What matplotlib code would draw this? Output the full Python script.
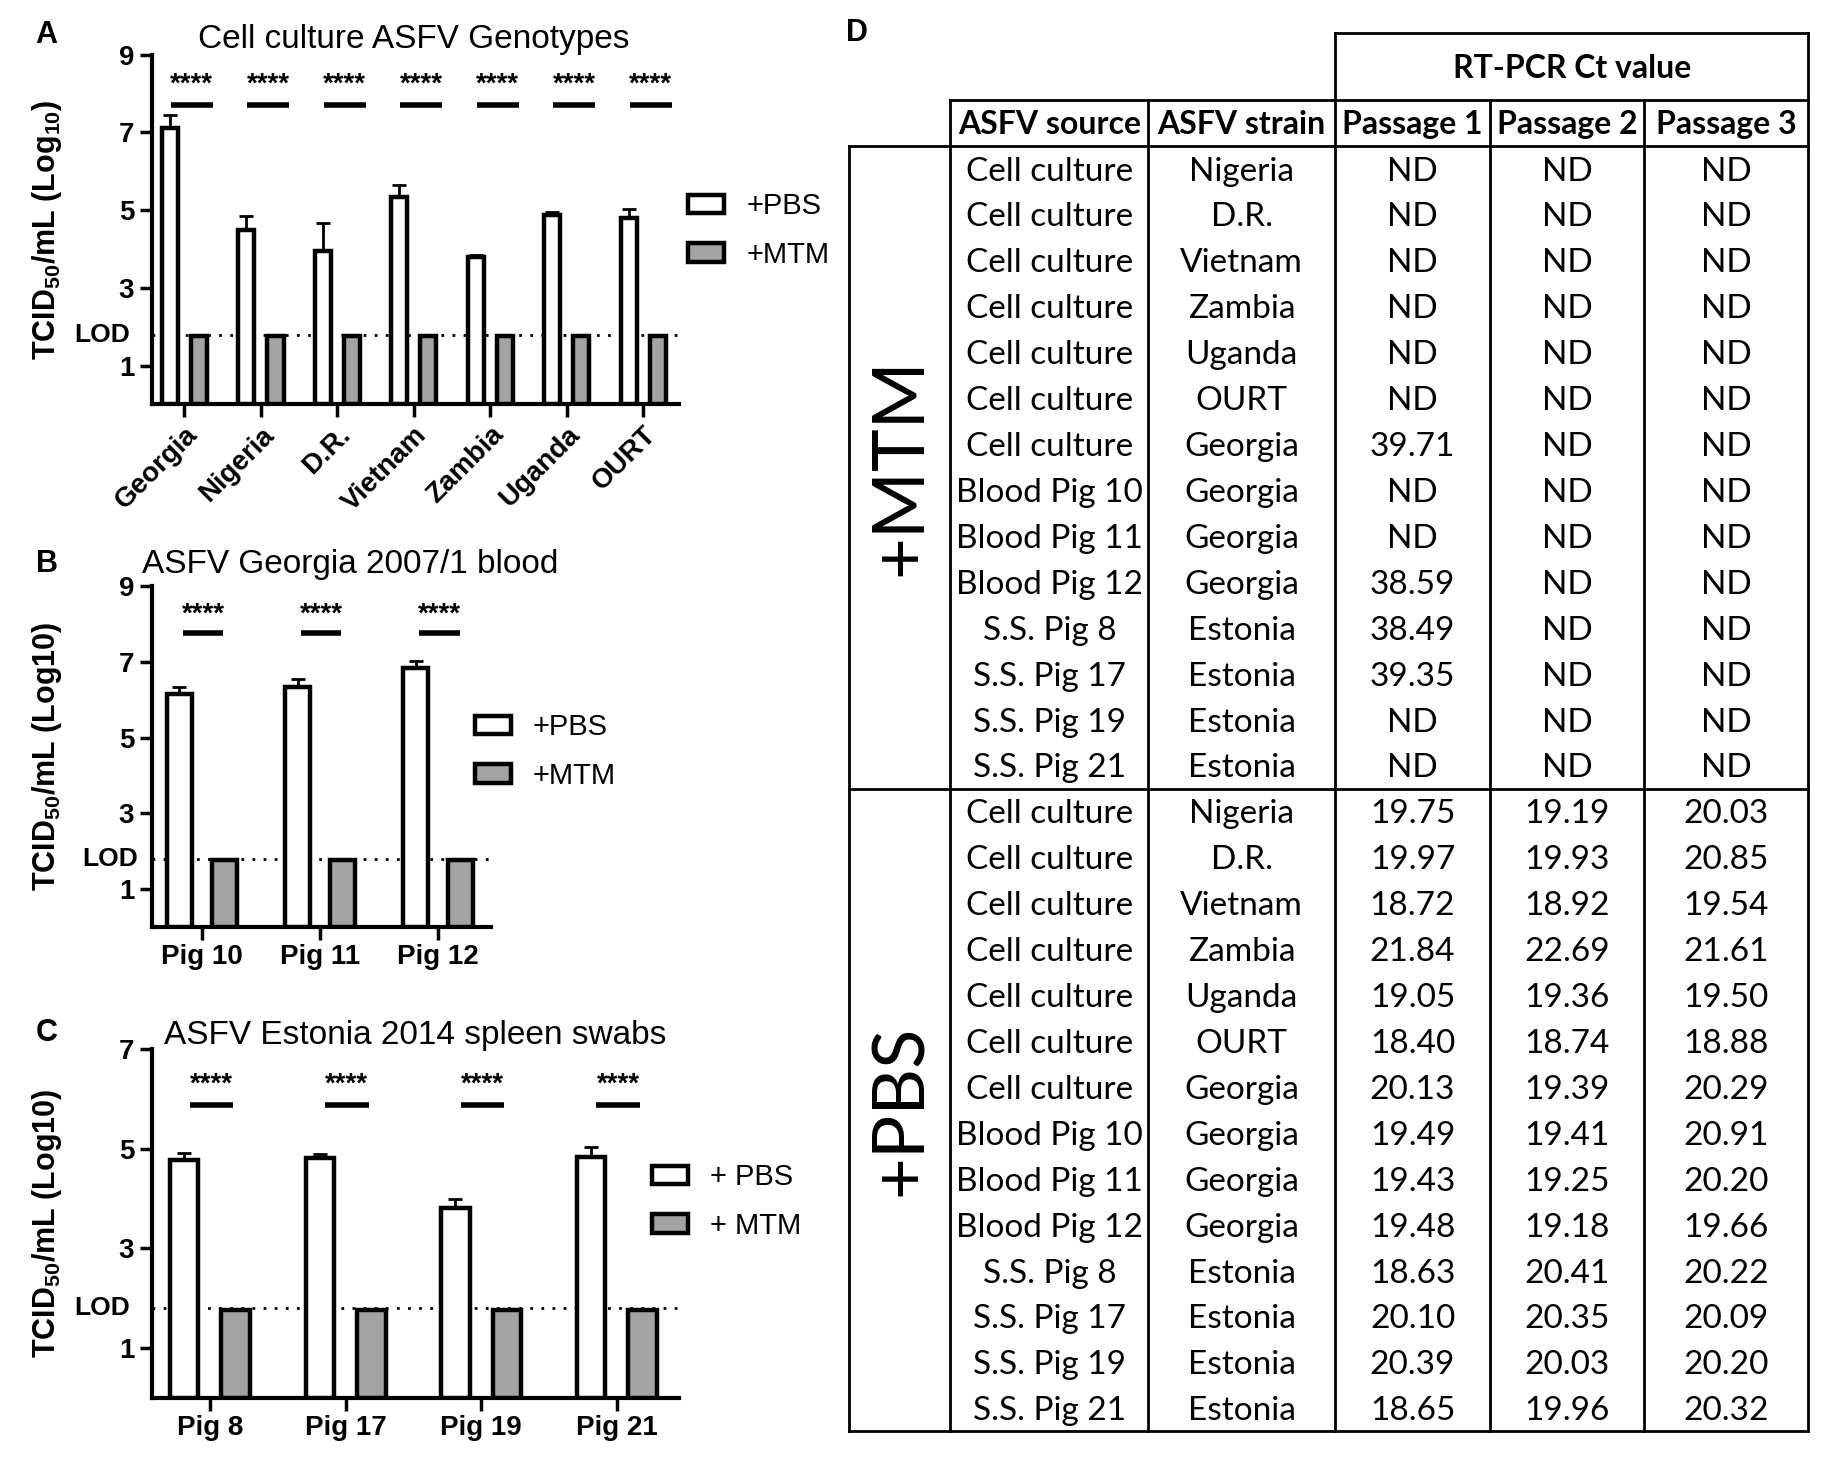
import numpy as np
import matplotlib.pyplot as plt

plt.rcParams['font.family'] = ['Liberation Sans', 'DejaVu Sans']
plt.rcParams['mathtext.fontset'] = 'custom'
plt.rcParams['mathtext.rm'] = 'Liberation Sans'
plt.rcParams['mathtext.bf'] = 'Liberation Sans:bold'

# ---- panel A: cell culture genotypes ----
genotypes = ['Georgia', 'Nigeria', 'D.R.', 'Vietnam', 'Zambia', 'Uganda', 'OURT']
a_pbs = [7.12, 4.49, 3.96, 5.34, 3.79, 4.87, 4.81]
a_pbs_err = [0.34, 0.36, 0.72, 0.31, 0.06, 0.09, 0.22]
a_mtm = [1.76, 1.76, 1.76, 1.76, 1.76, 1.76, 1.76]

# ---- panel B: Georgia 2007/1 blood ----
blood_pigs = ['Pig 10', 'Pig 11', 'Pig 12']
b_pbs = [6.15, 6.33, 6.83]
b_pbs_err = [0.20, 0.22, 0.19]
b_mtm = [1.76, 1.76, 1.76]

# ---- panel C: Estonia 2014 spleen swabs ----
swab_pigs = ['Pig 8', 'Pig 17', 'Pig 19', 'Pig 21']
c_pbs = [4.77, 4.81, 3.80, 4.84]
c_pbs_err = [0.14, 0.09, 0.19, 0.19]
c_mtm = [1.76, 1.76, 1.76, 1.76]

lod = 1.8

# ---- panel D: RT-PCR Ct values (None = ND) ----
sources = ['Cell culture'] * 7 + ['Blood Pig 10', 'Blood Pig 11', 'Blood Pig 12',
                                  'S.S. Pig 8', 'S.S. Pig 17', 'S.S. Pig 19', 'S.S. Pig 21']
strains = ['Nigeria', 'D.R.', 'Vietnam', 'Zambia', 'Uganda', 'OURT', 'Georgia',
           'Georgia', 'Georgia', 'Georgia', 'Estonia', 'Estonia', 'Estonia', 'Estonia']
mtm_p1 = [None] * 6 + [39.71, None, None, 38.59, 38.49, 39.35, None, None]
mtm_p2 = [None] * 14
mtm_p3 = [None] * 14
pbs_p1 = [19.75, 19.97, 18.72, 21.84, 19.05, 18.40, 20.13, 19.49, 19.43, 19.48, 18.63, 20.10, 20.39, 18.65]
pbs_p2 = [19.19, 19.93, 18.92, 22.69, 19.36, 18.74, 19.39, 19.41, 19.25, 19.18, 20.41, 20.35, 20.03, 19.96]
pbs_p3 = [20.03, 20.85, 19.54, 21.61, 19.50, 18.88, 20.29, 20.91, 20.20, 19.66, 20.22, 20.09, 20.20, 20.32]

W, H = 1567, 1262  # layout grid


def box(l, t, r, b):
    return [l / W, 1 - b / H, (r - l) / W, (b - t) / H]


fig = plt.figure(figsize=(18.27, 14.71), dpi=100)


def bar_panel(rect, xlim, cats, pbs, err, mtm, ymax, ylabel, sig_span, sig_y, star_y,
              labels, leg_xy, rotate=False):
    ax = fig.add_axes(rect)
    x = np.arange(len(cats))
    w, off = 0.21, 0.19
    ax.axhline(lod, color='black', lw=2, ls=(0, (1, 3)), zorder=1)
    b1 = ax.bar(x - off, pbs, width=w, color='white', edgecolor='black', lw=3.2, zorder=3)
    b2 = ax.bar(x + off, mtm, width=w, color='#a3a3a3', edgecolor='black', lw=3.2, zorder=3)
    ax.errorbar(x - off, pbs, yerr=[np.zeros(len(pbs)), err], fmt='none', ecolor='black',
                elinewidth=2, capsize=5, capthick=2, zorder=2)
    for xi in x:
        ax.plot([xi + sig_span[0], xi + sig_span[1]], [sig_y, sig_y], color='black', lw=4,
                solid_capstyle='butt')
        ax.text(xi + (sig_span[0] + sig_span[1]) / 2, star_y, '****', ha='center', va='center',
                fontsize=20, fontweight='bold')
    ax.set_xlim(*xlim)
    ax.set_ylim(0, ymax)
    ax.set_yticks(range(1, ymax + 1, 2))
    ax.set_xticks(x)
    if rotate:
        ax.set_xticklabels(cats, rotation=45, ha='right', rotation_mode='anchor')
    else:
        ax.set_xticklabels(cats)
    ax.tick_params(labelsize=20, width=2.5, length=9)
    plt.setp(ax.get_xticklabels() + ax.get_yticklabels(), fontweight='bold')
    for s in ['top', 'right']:
        ax.spines[s].set_visible(False)
    for s in ['left', 'bottom']:
        ax.spines[s].set_linewidth(3)
    ax.text(-0.04, lod, 'LOD', transform=ax.get_yaxis_transform(), ha='right', va='center',
            fontsize=19, fontweight='bold')
    fig.text(40 / W, rect[1] + rect[3] / 2, ylabel, rotation=90, ha='center', va='center',
             fontsize=22, fontweight='bold')
    ax.legend([b1, b2], labels, loc='upper left', bbox_to_anchor=(leg_xy[0] / W, 1 - leg_xy[1] / H),
              bbox_transform=fig.transFigure, frameon=False, fontsize=21, handlelength=1.25,
              handleheight=0.6, handletextpad=0.75, labelspacing=0.7, borderpad=0, borderaxespad=0)
    return ax


ylab_a = r'TCID$_{\mathbf{50}}$/mL (Log$_{\mathbf{10}}$)'
ylab_bc = r'TCID$_{\mathbf{50}}$/mL (Log10)'

bar_panel(box(130, 47, 582, 347), (-0.43, 6.46), genotypes, a_pbs, a_pbs_err, a_mtm, 9, ylab_a,
          (-0.18, 0.37), 7.72, 8.23, ['+PBS', '+MTM'], (590, 165), rotate=True)
bar_panel(box(130, 503, 421, 795), (-0.425, 2.445), blood_pigs, b_pbs, b_pbs_err, b_mtm, 9, ylab_bc,
          (-0.16, 0.18), 7.77, 8.25, ['+PBS', '+MTM'], (407, 612))
bar_panel(box(130, 900, 582, 1199), (-0.43, 3.455), swab_pigs, c_pbs, c_pbs_err, c_mtm, 7, ylab_bc,
          (-0.15, 0.17), 5.88, 6.28, ['+ PBS', '+ MTM'], (559, 998))

fig.text(355 / W, 1 - 34 / H, 'Cell culture ASFV Genotypes', ha='center', va='center', fontsize=24)
fig.text(300 / W, 1 - 484 / H, 'ASFV Georgia 2007/1 blood', ha='center', va='center', fontsize=24)
fig.text(356 / W, 1 - 888 / H, 'ASFV Estonia 2014 spleen swabs', ha='center', va='center', fontsize=24)

for letter, (px, py) in zip('ABCD', [(40, 30), (40, 484), (40, 886), (735, 28)]):
    fig.text(px / W, 1 - py / H, letter, ha='center', va='center', fontsize=22, fontweight='bold')

# ---- table D ----
axd = fig.add_axes(box(728, 28, 1551, 1228))
axd.set_xlim(728, 1551)
axd.set_ylim(1228, 28)
axd.axis('off')

col_edges = [728, 815, 985, 1145, 1278, 1410, 1551]
top, mid, head, sep, bottom = 28, 86, 125, 677, 1228
row_h = (bottom - head) / 28
lk = dict(color='black', lw=2, clip_on=False, solid_capstyle='projecting')

axd.plot([1145, 1551], [top, top], **lk)
axd.plot([815, 1551], [mid, mid], **lk)
for yy in [head, sep, bottom]:
    axd.plot([728, 1551], [yy, yy], **lk)
axd.plot([728, 728], [head, bottom], **lk)
for xx in [815, 985, 1278, 1410]:
    axd.plot([xx, xx], [mid, bottom], **lk)
for xx in [1145, 1551]:
    axd.plot([xx, xx], [top, bottom], **lk)

tfont = ['Lato', 'DejaVu Sans']
centers = [(col_edges[i] + col_edges[i + 1]) / 2 for i in range(1, 6)]
axd.text(1348, (top + mid) / 2 + 2, 'RT-PCR Ct value', ha='center', va='center', fontsize=23,
         fontweight='bold', family=tfont)
for cx, lab in zip(centers, ['ASFV source', 'ASFV strain', 'Passage 1', 'Passage 2', 'Passage 3']):
    axd.text(cx, (mid + head) / 2 + 1, lab, ha='center', va='center', fontsize=23, fontweight='bold',
             family=tfont)


def fmt(v):
    return 'ND' if v is None else f'{v:.2f}'


groups = [('+MTM', mtm_p1, mtm_p2, mtm_p3), ('+PBS', pbs_p1, pbs_p2, pbs_p3)]
for g, (name, p1, p2, p3) in enumerate(groups):
    y0 = head + g * 14 * row_h
    axd.text(773, y0 + 7 * row_h, name, rotation=90, ha='center', va='center', fontsize=52,
             family=tfont)
    for i in range(14):
        cy = y0 + (i + 0.5) * row_h + 2.5
        vals = [sources[i], strains[i], fmt(p1[i]), fmt(p2[i]), fmt(p3[i])]
        for cx, v in zip(centers, vals):
            axd.text(cx, cy, v, ha='center', va='center', fontsize=24, family=tfont)

fig.savefig('out.png', dpi=100)
